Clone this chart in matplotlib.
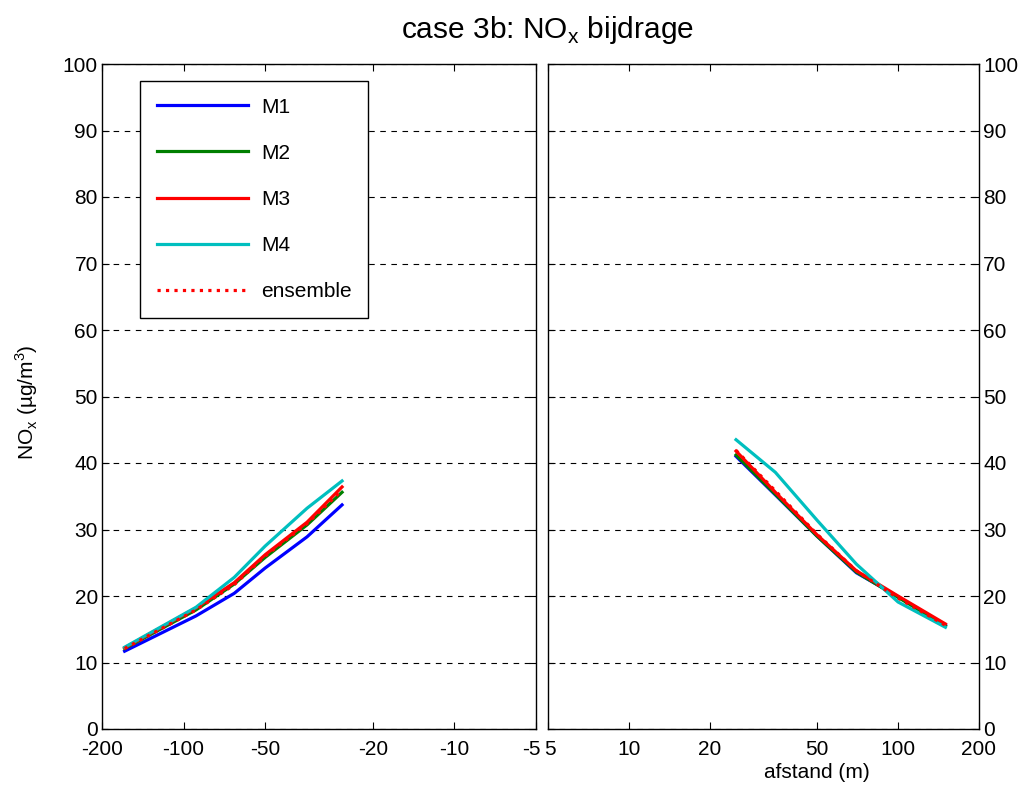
import numpy as np
import matplotlib.pyplot as plt
import matplotlib.transforms as mtransforms
from matplotlib.ticker import NullLocator, FixedLocator, FixedFormatter

plt.rcParams['font.family'] = ['Liberation Sans', 'DejaVu Sans']
plt.rcParams['mathtext.fontset'] = 'custom'
plt.rcParams['mathtext.rm'] = 'Liberation Sans'

# afstand tot de weg (m), links negatief
x_links = np.array([-165, -90, -65, -50, -35, -26])
x_rechts = np.array([25, 35, 50, 70, 100, 150])

# NOx bijdrage (ug/m3) per model
m1_links = [11.7, 17.0, 20.4, 24.2, 28.9, 33.7]
m2_links = [12.1, 17.9, 21.8, 25.8, 30.7, 35.6]
m3_links = [12.2, 18.2, 22.0, 26.2, 31.1, 36.4]
m4_links = [12.3, 18.3, 22.8, 27.5, 33.2, 37.3]
ens_links = [12.1, 17.9, 21.7, 26.0, 30.9, 35.9]

m1_rechts = [41.0, 35.2, 29.0, 23.5, 19.9, 15.6]
m2_rechts = [41.2, 35.3, 29.0, 23.6, 19.8, 15.5]
m3_rechts = [41.8, 35.6, 29.2, 23.8, 20.0, 15.8]
m4_rechts = [43.5, 38.6, 31.4, 24.8, 19.1, 15.3]
ens_rechts = [41.9, 35.8, 29.3, 23.8, 19.7, 15.6]

namen = ['M1', 'M2', 'M3', 'M4', 'ensemble']
kleuren = ['#0000ff', '#007f00', '#ff0000', '#00bfbf', '#ff0000']
stijlen = ['-', '-', '-', '-', ':']

links = [m1_links, m2_links, m3_links, m4_links, ens_links]
rechts = [m1_rechts, m2_rechts, m3_rechts, m4_rechts, ens_rechts]

fs = 15
fig = plt.figure(figsize=(10.23, 7.9), dpi=100)
ax1 = fig.add_axes([102/1023, 1-729/790, 434/1023, 665/790])
ax2 = fig.add_axes([548/1023, 1-729/790, 431/1023, 665/790])

for naam, kl, st, yl, yr in zip(namen, kleuren, stijlen, links, rechts):
    ax1.plot(-x_links, yl, color=kl, ls=st, lw=2.3, label=naam)
    ax2.plot(x_rechts, yr, color=kl, ls=st, lw=2.3)

ax1.set_xscale('log')
ax1.set_xlim(200, 5)
ax1.xaxis.set_major_locator(FixedLocator([200, 100, 50, 20, 10, 5]))
ax1.xaxis.set_major_formatter(FixedFormatter(['-200', '-100', '-50', '-20', '-10', '-5']))

ax2.set_xscale('log')
ax2.set_xlim(5, 200)
ax2.xaxis.set_major_locator(FixedLocator([5, 10, 20, 50, 100, 200]))
ax2.xaxis.set_major_formatter(FixedFormatter(['5', '10', '20', '50', '100', '200']))

for ax in (ax1, ax2):
    ax.xaxis.set_minor_locator(NullLocator())
    ax.set_ylim(0, 100)
    ax.set_yticks(np.arange(0, 101, 10))
    ax.yaxis.grid(True, ls=(0, (5, 5)), color='black', lw=0.8)
    ax.tick_params(direction='in', length=5, width=0.8, top=True, right=True,
                   left=True, bottom=True, labelsize=fs, pad=3)
    ax.tick_params(axis='x', pad=8)
    for sp in ax.spines.values():
        sp.set_linewidth(1.0)

ax2.tick_params(labelleft=False, labelright=True)

# -5 en 5 naast elkaar, zoals "-55" in het origineel
fig.canvas.draw()
lab_l = ax1.xaxis.get_major_ticks()[-1].label1
lab_l.set_ha('right')
lab_l.set_transform(lab_l.get_transform() + mtransforms.ScaledTranslation(5/100, 0, fig.dpi_scale_trans))
lab_r = ax2.xaxis.get_major_ticks()[0].label1
lab_r.set_ha('left')
lab_r.set_transform(lab_r.get_transform() + mtransforms.ScaledTranslation(-4/100, 0, fig.dpi_scale_trans))

fig.text(547/1023, 1-30/790, 'case 3b: NO$_\\mathregular{x}$ bijdrage',
         ha='center', va='center', fontsize=21.5)
fig.text(27/1023, 1-402/790, 'NO$_\\mathregular{x}$ (µg/m$^\\mathregular{3}$)',
         rotation=90, ha='center', va='center', fontsize=fs)
fig.text(817/1023, 1-772/790, 'afstand (m)', ha='center', va='center', fontsize=fs)

leg = ax1.legend(loc='upper left', bbox_to_anchor=(140/1023, 1-81/790),
                 bbox_transform=fig.transFigure, fontsize=fs, handlelength=4.4,
                 handletextpad=0.6, labelspacing=1.3, borderpad=0.8,
                 fancybox=False, framealpha=1, edgecolor='black', borderaxespad=0)
leg.get_frame().set_linewidth(1.0)

fig.savefig('out.png', dpi=100)
